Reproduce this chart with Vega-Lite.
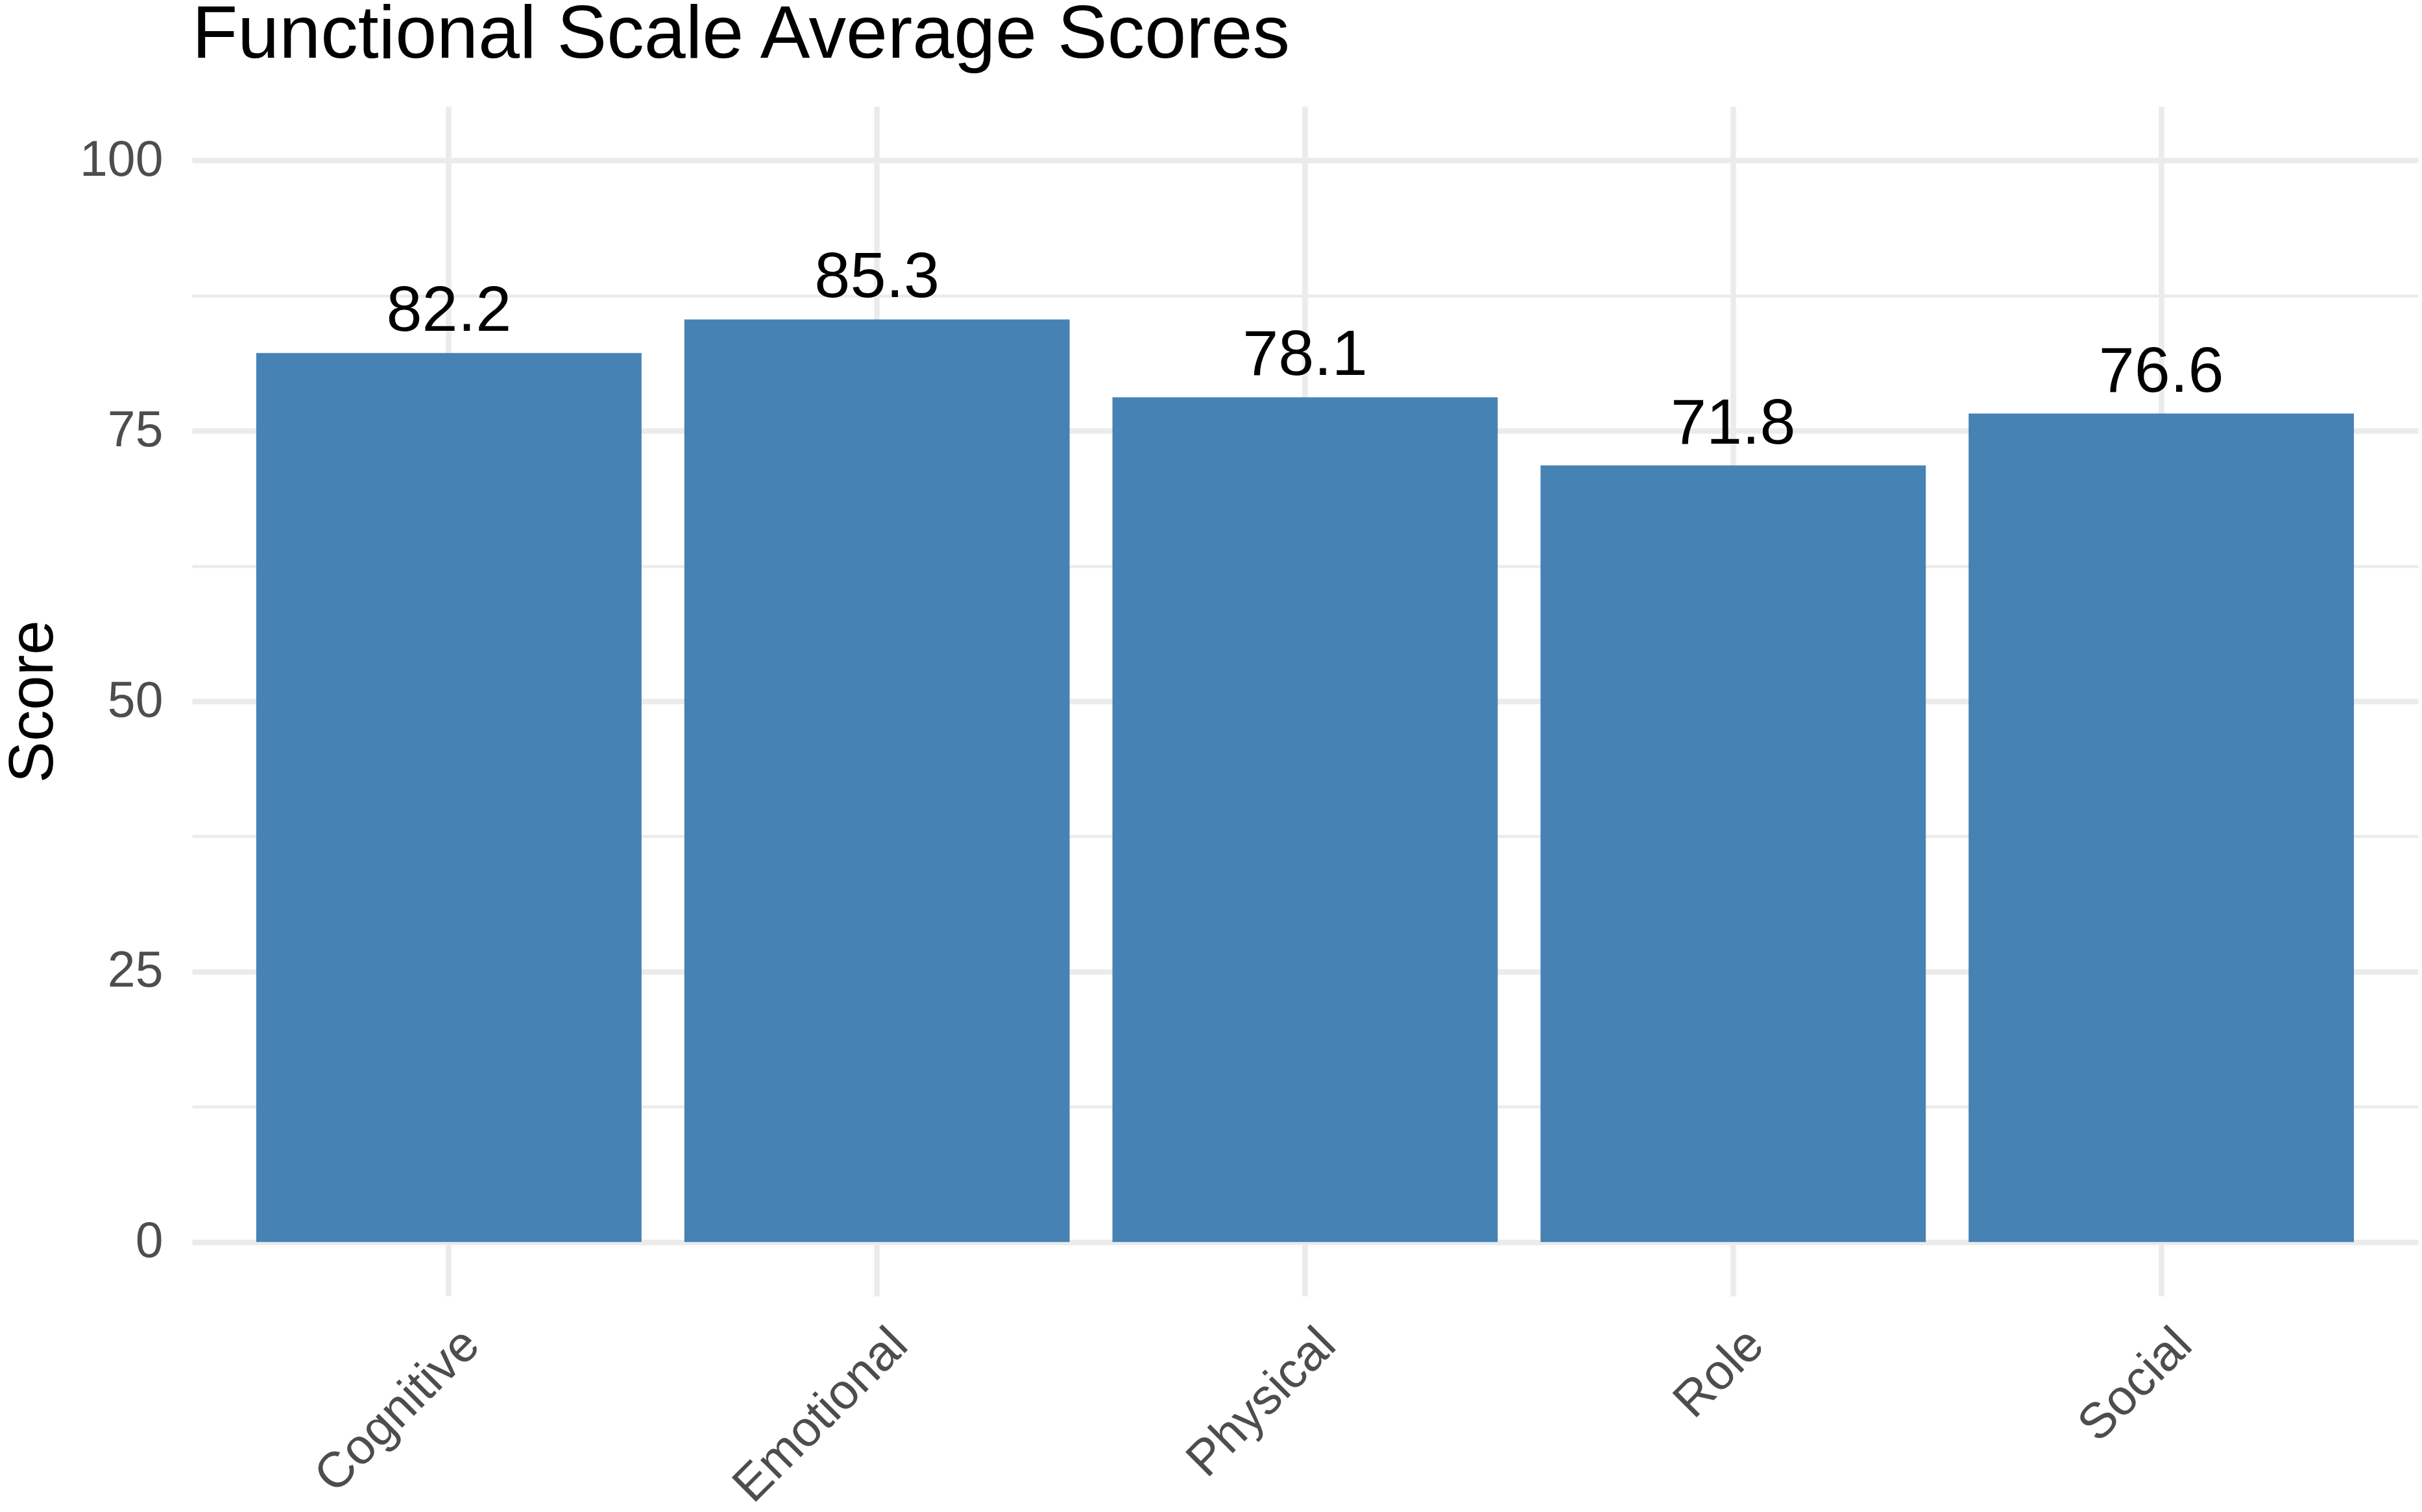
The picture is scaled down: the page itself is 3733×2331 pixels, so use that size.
{
  "$schema": "https://vega.github.io/schema/vega-lite/v6.json",
  "autosize": {"type": "none"},
  "width": 3431,
  "height": 1834,
  "padding": {"left": 296, "top": 164, "right": 6, "bottom": 333},
  "background": "white",
  "title": {
    "text": "Functional Scale Average Scores",
    "anchor": "start",
    "frame": "group",
    "baseline": "alphabetic",
    "offset": -40,
    "fontSize": 115,
    "fontWeight": "normal",
    "color": "#000000",
    "font": "Liberation Sans"
  },
  "config": {
    "font": "Liberation Sans",
    "view": {"stroke": null}
  },
  "data": {
    "values": [
      {"Scale": "Cognitive", "Score": 82.2},
      {"Scale": "Emotional", "Score": 85.3},
      {"Scale": "Physical", "Score": 78.1},
      {"Scale": "Role", "Score": 71.8},
      {"Scale": "Social", "Score": 76.6}
    ]
  },
  "encoding": {
    "x": {
      "field": "Scale",
      "type": "nominal",
      "sort": null,
      "scale": {"paddingInner": 0.1, "paddingOuter": 0.15},
      "axis": {
        "title": null,
        "domain": false,
        "ticks": false,
        "tickSize": 0,
        "grid": true,
        "bandPosition": 0.5,
        "gridColor": "#EBEBEB",
        "gridWidth": 8.5,
        "labelAngle": -45,
        "labelAlign": "right",
        "labelBaseline": "top",
        "labelFontSize": 77,
        "labelColor": "#4D4D4D",
        "labelPadding": 36,
        "labelOffset": 8,
        "labelLimit": 0,
        "labelFont": "Liberation Sans"
      }
    },
    "y": {
      "field": "Score",
      "type": "quantitative",
      "scale": {"domain": [-5, 105], "nice": false, "zero": false},
      "axis": {
        "title": "Score",
        "titleFontSize": 96,
        "titleFontWeight": "normal",
        "titleColor": "#000000",
        "titleFont": "Liberation Sans",
        "titleAngle": -90,
        "titleAlign": "center",
        "titleBaseline": "alphabetic",
        "titleX": -216,
        "titleY": 917,
        "values": [0, 12.5, 25, 37.5, 50, 62.5, 75, 87.5, 100],
        "labelExpr": "datum.value % 25 === 0 ? format(datum.value, 'd') : ''",
        "domain": false,
        "ticks": false,
        "tickSize": 0,
        "grid": true,
        "gridColor": "#EBEBEB",
        "gridWidth": {"condition": {"test": "datum.value % 25 === 0", "value": 8.5}, "value": 4.3},
        "labelFontSize": 77,
        "labelColor": "#4D4D4D",
        "labelPadding": 45,
        "labelBaseline": "middle",
        "labelFont": "Liberation Sans"
      }
    }
  },
  "layer": [
    {
      "mark": {"type": "bar", "color": "#4682B4"},
      "encoding": {"y2": {"datum": 0}}
    },
    {
      "mark": {
        "type": "text",
        "fontSize": 99,
        "color": "#000000",
        "baseline": "alphabetic",
        "align": "center",
        "dy": -34,
        "font": "Liberation Sans"
      },
      "encoding": {
        "text": {"field": "Score", "type": "quantitative", "format": ".1f"}
      }
    }
  ]
}
